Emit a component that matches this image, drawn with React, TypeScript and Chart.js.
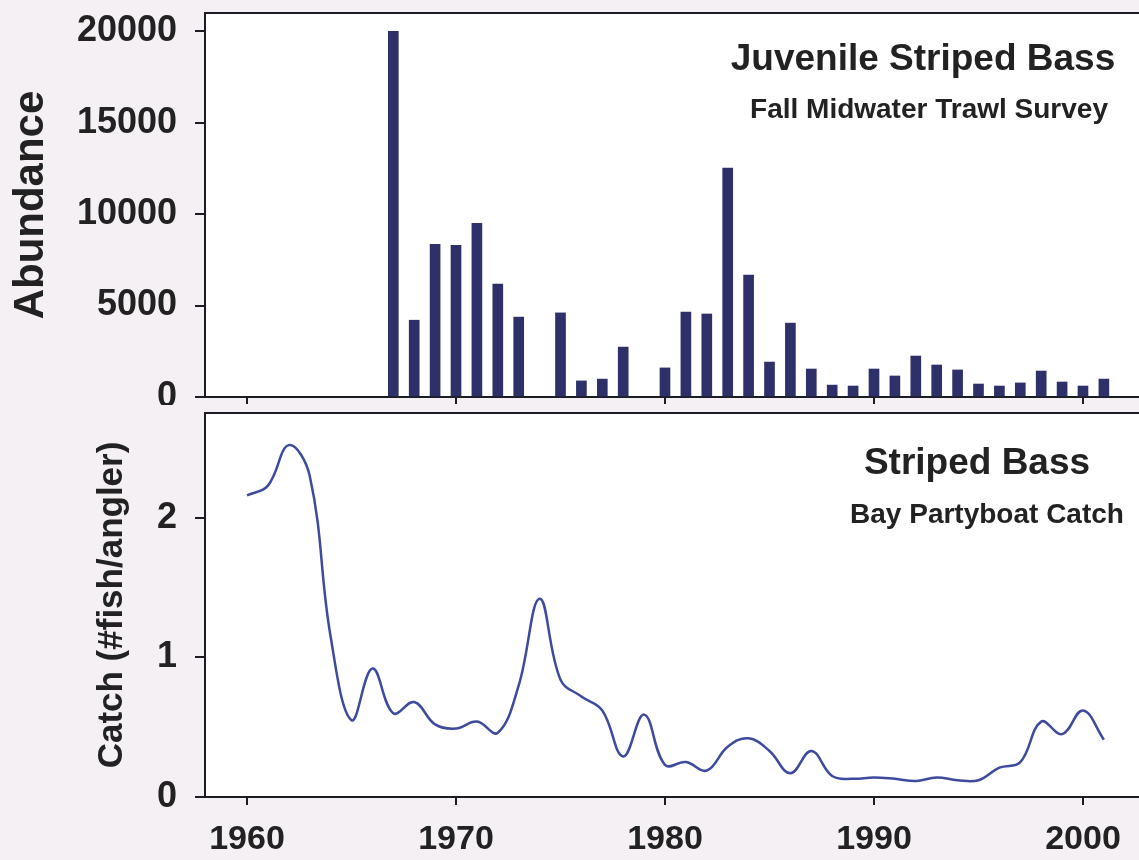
import React, { useEffect, useRef } from 'react';
import { Chart, registerables } from 'chart.js';

Chart.register(...registerables);

// ---------- Data ----------
const barYears = [
  1967, 1968, 1969, 1970, 1971, 1972, 1973, 1974, 1975, 1976, 1977, 1978,
  1979, 1980, 1981, 1982, 1983, 1984, 1985, 1986, 1987, 1988, 1989, 1990,
  1991, 1992, 1993, 1994, 1995, 1996, 1997, 1998, 1999, 2000, 2001,
];
const abundance: (number | null)[] = [
  20000, 4200, 8350, 8300, 9500, 6180, 4370, null, 4600, 880, 980, 2730,
  null, 1590, 4650, 4540, 12520, 6670, 1910, 4040, 1530, 650, 600, 1530,
  1150, 2240, 1750, 1480, 710, 600, 770, 1420, 820, 600, 980,
];

const catchYears = [
  1960, 1961, 1962, 1963, 1964, 1965, 1966, 1967, 1968, 1969, 1970, 1971,
  1972, 1973, 1974, 1975, 1976, 1977, 1978, 1979, 1980, 1981, 1982, 1983,
  1984, 1985, 1986, 1987, 1988, 1989, 1990, 1991, 1992, 1993, 1994, 1995,
  1996, 1997, 1998, 1999, 2000, 2001,
];
const catchValues = [
  2.16, 2.23, 2.52, 2.3, 1.15, 0.55, 0.92, 0.6, 0.68, 0.52, 0.49, 0.54,
  0.46, 0.8, 1.42, 0.84, 0.72, 0.62, 0.29, 0.59, 0.23, 0.25, 0.19, 0.36,
  0.42, 0.33, 0.17, 0.33, 0.15, 0.13, 0.14, 0.13, 0.115, 0.14, 0.12, 0.12,
  0.21, 0.25, 0.54, 0.45, 0.62, 0.41,
];

const xTickValues = [1960, 1970, 1980, 1990, 2000];
const topYTicks = [0, 5000, 10000, 15000, 20000];
const bottomYTicks = [0, 1, 2];

const topTitle = 'Juvenile Striped Bass';
const topSubtitle = 'Fall Midwater Trawl Survey';
const bottomTitle = 'Striped Bass';
const bottomSubtitle = 'Bay Partyboat Catch';
const topYLabel = 'Abundance';
const bottomYLabel = 'Catch (#fish/angler)';

// ---------- Styles ----------
const FONT = "'Liberation Sans', Arial, Helvetica, sans-serif";
const TEXT = '#222222';
const AXIS = '#1c1c24';
const BAR = '#2e3069';
const LINE = '#3d4a9e';
const PAPER = '#f4f0f4';
const X_MIN = 1957.99;
const X_MAX = 2002.68;

const panelPlugin = (title: string, subtitle: string, tx: number, ty: number, sx: number, sy: number, titleSize: number, subSize: number) => ({
  id: 'panelDecor',
  beforeDraw(chart: any) {
    const { ctx, chartArea, width, height } = chart;
    ctx.save();
    ctx.fillStyle = PAPER;
    ctx.fillRect(0, 0, width, height);
    ctx.fillStyle = '#ffffff';
    ctx.fillRect(chartArea.left, chartArea.top, chartArea.right - chartArea.left, chartArea.bottom - chartArea.top);
    ctx.restore();
  },
  afterDraw(chart: any) {
    const { ctx, chartArea } = chart;
    ctx.save();
    ctx.strokeStyle = AXIS;
    ctx.lineWidth = 2;
    ctx.beginPath();
    ctx.moveTo(chartArea.left - 1, chartArea.top);
    ctx.lineTo(chartArea.right, chartArea.top);
    ctx.stroke();
    ctx.fillStyle = TEXT;
    ctx.textAlign = 'center';
    ctx.textBaseline = 'alphabetic';
    ctx.font = `bold ${titleSize}px ${FONT}`;
    ctx.fillText(title, tx, ty);
    ctx.font = `bold ${subSize}px ${FONT}`;
    ctx.fillText(subtitle, sx, sy);
    ctx.restore();
  },
});

function yAxis(ticksList: number[], min: number, max: number, label: string, labelSize: number, labelPad: number) {
  return {
    position: 'left',
    min,
    max,
    afterFit(scale: any) {
      scale.width = 205;
      scale.paddingTop = 0;
      scale.paddingBottom = 0;
    },
    afterBuildTicks(scale: any) {
      scale.ticks = ticksList.map((v) => ({ value: v }));
    },
    border: { display: true, color: AXIS, width: 2 },
    grid: { drawOnChartArea: false, drawTicks: true, tickLength: 10, color: AXIS, lineWidth: 2 },
    ticks: {
      color: TEXT,
      padding: 18,
      font: { family: FONT, size: 36, weight: 'bold' },
      callback: (v: number) => String(v),
    },
    title: {
      display: true,
      text: label,
      color: TEXT,
      padding: { top: labelPad, bottom: 0 },
      font: { family: FONT, size: labelSize, weight: 'bold', lineHeight: 1.2 },
    },
  };
}

function xAxis(showLabels: boolean, height: number, tickLen: number) {
  return {
    type: 'linear',
    position: 'bottom',
    offset: false,
    min: X_MIN,
    max: X_MAX,
    afterFit(scale: any) {
      scale.height = height;
      scale.paddingLeft = 0;
      scale.paddingRight = 0;
    },
    afterBuildTicks(scale: any) {
      scale.ticks = xTickValues.map((v) => ({ value: v }));
    },
    border: { display: true, color: AXIS, width: 2 },
    grid: { offset: false, drawOnChartArea: false, drawTicks: true, tickLength: tickLen, color: AXIS, lineWidth: 2 },
    ticks: {
      display: showLabels,
      color: TEXT,
      padding: 14,
      maxRotation: 0,
      autoSkip: false,
      font: { family: FONT, size: 34, weight: 'bold' },
      callback: (v: number) => String(v),
    },
  };
}

export default function App() {
  const topRef = useRef<HTMLCanvasElement | null>(null);
  const bottomRef = useRef<HTMLCanvasElement | null>(null);

  useEffect(() => {
    const top = new Chart(topRef.current as HTMLCanvasElement, {
      type: 'bar',
      data: {
        datasets: [
          {
            data: barYears.map((y, i) => ({ x: y, y: abundance[i] })) as any,
            backgroundColor: BAR,
            borderWidth: 0,
            barThickness: 10,
          },
        ],
      },
      options: {
        responsive: false,
        animation: false,
        layout: { padding: { top: 13, left: 0, right: 0, bottom: 0 } },
        plugins: { legend: { display: false }, tooltip: { enabled: false } },
        scales: {
          x: xAxis(false, 8, 7) as any,
          y: yAxis(topYTicks, 0, 21000, topYLabel, 42, 6) as any,
        },
      },
      plugins: [panelPlugin(topTitle, topSubtitle, 923, 70, 929, 118, 37, 28)],
    });

    const bottom = new Chart(bottomRef.current as HTMLCanvasElement, {
      type: 'line',
      data: {
        datasets: [
          {
            data: catchYears.map((y, i) => ({ x: y, y: catchValues[i] })),
            borderColor: LINE,
            borderWidth: 2.5,
            pointRadius: 0,
            tension: 0.4,
            fill: false,
          },
        ],
      },
      options: {
        responsive: false,
        animation: false,
        layout: { padding: { top: 8, left: 0, right: 0, bottom: 0 } },
        plugins: { legend: { display: false }, tooltip: { enabled: false } },
        scales: {
          x: xAxis(true, 63, 8) as any,
          y: yAxis(bottomYTicks, 0, 2.75, bottomYLabel, 35, 91) as any,
        },
      },
      plugins: [panelPlugin(bottomTitle, bottomSubtitle, 977, 69, 987, 118, 37, 28)],
    });

    return () => {
      top.destroy();
      bottom.destroy();
    };
  }, []);

  return (
    <div style={{ position: 'fixed', left: 0, top: 0, width: 1139, height: 860, background: PAPER, overflow: 'hidden' }}>
      <canvas ref={topRef} width={1139} height={405} style={{ display: 'block', width: 1139, height: 405 }} />
      <canvas ref={bottomRef} width={1139} height={455} style={{ display: 'block', width: 1139, height: 455 }} />
    </div>
  );
}
